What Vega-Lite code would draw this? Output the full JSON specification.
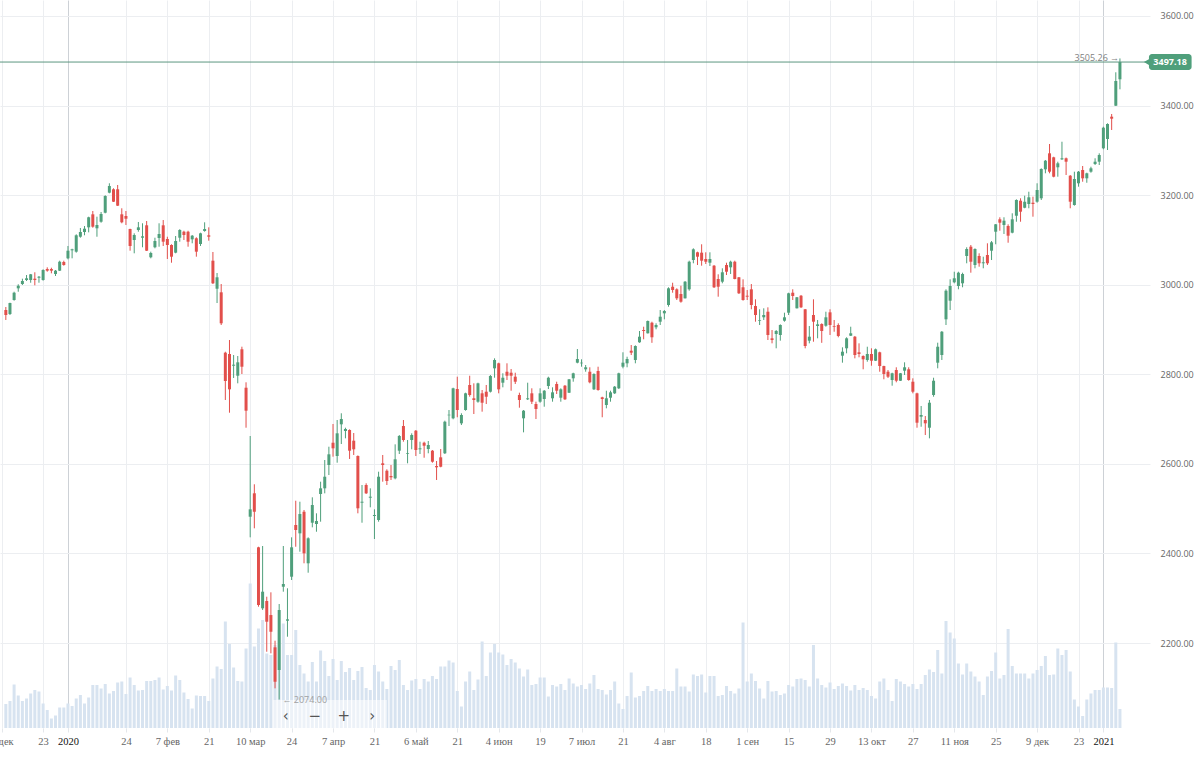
{
"$schema":"https://vega.github.io/schema/vega-lite/v6.json",
"width":1150,"height":728,"autosize":"none",
"padding":{"left":0,"top":0,"right":50,"bottom":45},
"background":"white",
"config":{"view":{"stroke":null},"font":"Open Sans"},
"datasets":{"ohlc":[
{"i":-29,"o":2943.6,"h":2950.3,"l":2921.3,"c":2932.4,"v":48},
{"i":-28,"o":2934.7,"h":2959.9,"l":2932.4,"c":2959.2,"v":54},
{"i":-27,"o":2965.9,"h":2984.4,"l":2964.4,"c":2982.2,"v":87},
{"i":-26,"o":2992.0,"h":3001.0,"l":2984.4,"c":2997.8,"v":65},
{"i":-25,"o":3001.6,"h":3013.5,"l":2999.4,"c":3008.3,"v":54},
{"i":-24,"o":3010.6,"h":3021.7,"l":3008.3,"c":3014.4,"v":59},
{"i":-23,"o":3010.6,"h":3024.0,"l":3004.5,"c":3023.3,"v":69},
{"i":-22,"o":3013.5,"h":3027.8,"l":2998.7,"c":3010.6,"v":76},
{"i":-21,"o":3015.7,"h":3019.5,"l":3004.5,"c":3017.9,"v":73},
{"i":-20,"o":3010.6,"h":3034.5,"l":3009.0,"c":3032.9,"v":49},
{"i":-19,"o":3035.1,"h":3038.9,"l":3029.1,"c":3031.4,"v":36},
{"i":-18,"o":3035.1,"h":3038.0,"l":3025.5,"c":3031.4,"v":19},
{"i":-17,"o":3024.0,"h":3032.9,"l":3019.5,"c":3031.4,"v":25},
{"i":-16,"o":3031.4,"h":3053.7,"l":3030.7,"c":3051.4,"v":41},
{"i":-15,"o":3050.8,"h":3053.7,"l":3042.5,"c":3044.1,"v":41},
{"i":-14,"o":3059.0,"h":3086.5,"l":3056.8,"c":3076.0,"v":49},
{"i":-13,"o":3076.9,"h":3080.4,"l":3059.0,"c":3079.1,"v":44},
{"i":-12,"o":3073.8,"h":3112.6,"l":3071.6,"c":3110.4,"v":59},
{"i":-11,"o":3107.2,"h":3126.7,"l":3105.0,"c":3117.7,"v":66},
{"i":-10,"o":3117.7,"h":3131.1,"l":3110.4,"c":3125.1,"v":49},
{"i":-9,"o":3128.2,"h":3151.9,"l":3117.0,"c":3150.6,"v":61},
{"i":-8,"o":3157.2,"h":3164.6,"l":3127.3,"c":3129.6,"v":86},
{"i":-7,"o":3126.0,"h":3151.9,"l":3107.2,"c":3133.4,"v":86},
{"i":-6,"o":3140.7,"h":3162.4,"l":3138.5,"c":3157.9,"v":79},
{"i":-5,"o":3160.8,"h":3199.7,"l":3159.5,"c":3198.1,"v":88},
{"i":-4,"o":3205.5,"h":3226.5,"l":3204.1,"c":3220.4,"v":69},
{"i":-3,"o":3213.1,"h":3215.3,"l":3184.7,"c":3185.4,"v":74},
{"i":-2,"o":3213.1,"h":3222.7,"l":3175.8,"c":3176.5,"v":91},
{"i":-1,"o":3157.2,"h":3170.7,"l":3137.2,"c":3139.4,"v":93},
{"i":0,"o":3153.5,"h":3164.6,"l":3133.4,"c":3147.4,"v":68},
{"i":1,"o":3124.4,"h":3125.1,"l":3076.0,"c":3086.5,"v":101},
{"i":2,"o":3099.9,"h":3114.8,"l":3070.2,"c":3111.0,"v":86},
{"i":3,"o":3122.2,"h":3140.1,"l":3118.4,"c":3128.2,"v":75},
{"i":4,"o":3105.0,"h":3137.2,"l":3083.6,"c":3108.1,"v":76},
{"i":5,"o":3132.7,"h":3142.3,"l":3075.3,"c":3076.0,"v":94},
{"i":6,"o":3061.3,"h":3073.8,"l":3059.0,"c":3070.9,"v":94},
{"i":7,"o":3083.7,"h":3105.0,"l":3081.3,"c":3097.6,"v":96},
{"i":8,"o":3104.3,"h":3137.2,"l":3084.9,"c":3113.3,"v":101},
{"i":9,"o":3132.7,"h":3144.5,"l":3086.5,"c":3096.1,"v":77},
{"i":10,"o":3102.1,"h":3107.2,"l":3057.5,"c":3088.7,"v":84},
{"i":11,"o":3088.7,"h":3090.3,"l":3049.2,"c":3062.6,"v":75},
{"i":12,"o":3071.6,"h":3108.8,"l":3070.2,"c":3097.6,"v":105},
{"i":13,"o":3105.0,"h":3124.0,"l":3096.1,"c":3122.2,"v":96},
{"i":14,"o":3118.4,"h":3120.6,"l":3099.9,"c":3111.0,"v":71},
{"i":15,"o":3118.4,"h":3120.6,"l":3084.9,"c":3096.1,"v":58},
{"i":16,"o":3101.4,"h":3111.0,"l":3092.5,"c":3109.5,"v":39},
{"i":17,"o":3103.7,"h":3105.9,"l":3062.6,"c":3073.8,"v":65},
{"i":18,"o":3090.9,"h":3116.2,"l":3086.5,"c":3114.8,"v":64},
{"i":19,"o":3120.0,"h":3139.4,"l":3118.4,"c":3124.4,"v":64},
{"i":20,"o":3110.4,"h":3128.2,"l":3098.3,"c":3107.2,"v":54},
{"i":21,"o":3053.7,"h":3073.1,"l":3001.6,"c":3003.2,"v":99},
{"i":22,"o":2991.1,"h":3026.2,"l":2959.2,"c":3016.6,"v":123},
{"i":23,"o":2983.1,"h":3001.6,"l":2910.1,"c":2913.9,"v":118},
{"i":24,"o":2848.3,"h":2850.5,"l":2742.7,"c":2785.1,"v":213},
{"i":25,"o":2845.4,"h":2876.6,"l":2714.3,"c":2766.5,"v":168},
{"i":26,"o":2819.2,"h":2843.1,"l":2791.8,"c":2821.5,"v":121},
{"i":27,"o":2796.9,"h":2840.9,"l":2779.9,"c":2826.8,"v":94},
{"i":28,"o":2855.9,"h":2861.7,"l":2800.7,"c":2817.0,"v":93},
{"i":29,"o":2770.1,"h":2782.2,"l":2680.8,"c":2718.8,"v":159},
{"i":30,"o":2482.1,"h":2662.3,"l":2436.1,"c":2498.6,"v":289},
{"i":31,"o":2534.3,"h":2554.5,"l":2456.2,"c":2493.2,"v":163},
{"i":32,"o":2413.8,"h":2415.1,"l":2281.2,"c":2285.0,"v":199},
{"i":33,"o":2277.6,"h":2416.7,"l":2273.8,"c":2314.7,"v":216},
{"i":34,"o":2293.9,"h":2303.5,"l":2180.7,"c":2247.7,"v":149},
{"i":35,"o":2262.6,"h":2313.3,"l":2177.1,"c":2225.3,"v":146},
{"i":36,"o":2190.5,"h":2205.3,"l":2099.0,"c":2113.7,"v":166},
{"i":37,"o":2139.9,"h":2287.2,"l":2074.0,"c":2273.8,"v":196},
{"i":38,"o":2325.8,"h":2416.7,"l":2314.7,"c":2331.9,"v":209},
{"i":39,"o":2249.9,"h":2322.3,"l":2214.2,"c":2253.0,"v":146},
{"i":40,"o":2348.2,"h":2436.1,"l":2340.8,"c":2413.8,"v":146},
{"i":41,"o":2463.6,"h":2517.8,"l":2415.1,"c":2452.4,"v":196},
{"i":42,"o":2445.0,"h":2515.6,"l":2404.0,"c":2488.1,"v":126},
{"i":43,"o":2493.2,"h":2497.1,"l":2378.1,"c":2400.4,"v":109},
{"i":44,"o":2378.1,"h":2436.1,"l":2357.1,"c":2433.9,"v":93},
{"i":45,"o":2468.7,"h":2525.4,"l":2458.4,"c":2508.2,"v":132},
{"i":46,"o":2465.8,"h":2489.7,"l":2448.6,"c":2472.5,"v":93},
{"i":47,"o":2532.8,"h":2560.3,"l":2471.0,"c":2545.5,"v":155},
{"i":48,"o":2545.5,"h":2608.7,"l":2534.3,"c":2571.4,"v":134},
{"i":49,"o":2597.5,"h":2638.4,"l":2575.2,"c":2621.4,"v":104},
{"i":50,"o":2647.3,"h":2689.1,"l":2616.1,"c":2634.8,"v":138},
{"i":51,"o":2617.6,"h":2698.0,"l":2602.7,"c":2668.3,"v":96},
{"i":52,"o":2688.4,"h":2713.0,"l":2644.4,"c":2700.2,"v":134},
{"i":53,"o":2673.4,"h":2680.8,"l":2657.1,"c":2677.9,"v":112},
{"i":54,"o":2675.7,"h":2677.2,"l":2611.0,"c":2629.5,"v":120},
{"i":55,"o":2651.8,"h":2669.0,"l":2619.9,"c":2632.6,"v":96},
{"i":56,"o":2617.6,"h":2619.0,"l":2489.7,"c":2500.9,"v":114},
{"i":57,"o":2513.4,"h":2552.9,"l":2468.7,"c":2515.6,"v":122},
{"i":58,"o":2552.9,"h":2556.7,"l":2532.8,"c":2534.3,"v":80},
{"i":59,"o":2524.5,"h":2545.5,"l":2503.1,"c":2526.8,"v":76},
{"i":60,"o":2483.7,"h":2498.6,"l":2432.3,"c":2485.9,"v":126},
{"i":61,"o":2474.8,"h":2582.6,"l":2471.0,"c":2571.4,"v":113},
{"i":62,"o":2601.3,"h":2619.9,"l":2560.3,"c":2597.5,"v":93},
{"i":63,"o":2584.8,"h":2587.9,"l":2552.9,"c":2561.8,"v":78},
{"i":64,"o":2573.0,"h":2597.5,"l":2564.1,"c":2570.1,"v":124},
{"i":65,"o":2567.8,"h":2643.7,"l":2565.6,"c":2610.3,"v":116},
{"i":66,"o":2629.5,"h":2664.5,"l":2622.1,"c":2662.3,"v":136},
{"i":67,"o":2684.6,"h":2698.0,"l":2649.6,"c":2653.4,"v":86},
{"i":68,"o":2622.1,"h":2653.4,"l":2601.3,"c":2623.7,"v":76},
{"i":69,"o":2653.4,"h":2668.3,"l":2632.6,"c":2664.5,"v":95},
{"i":70,"o":2674.1,"h":2675.7,"l":2617.6,"c":2631.0,"v":98},
{"i":71,"o":2632.6,"h":2649.6,"l":2622.1,"c":2634.8,"v":78},
{"i":72,"o":2647.3,"h":2649.6,"l":2613.8,"c":2640.6,"v":98},
{"i":73,"o":2633.3,"h":2651.1,"l":2623.7,"c":2642.2,"v":93},
{"i":74,"o":2629.5,"h":2631.0,"l":2602.7,"c":2604.9,"v":104},
{"i":75,"o":2595.3,"h":2606.5,"l":2564.1,"c":2592.4,"v":98},
{"i":76,"o":2614.7,"h":2633.3,"l":2592.4,"c":2593.7,"v":123},
{"i":77,"o":2623.7,"h":2696.5,"l":2622.1,"c":2694.2,"v":123},
{"i":78,"o":2708.5,"h":2720.3,"l":2684.6,"c":2709.8,"v":135},
{"i":79,"o":2701.8,"h":2770.1,"l":2699.6,"c":2768.8,"v":131},
{"i":80,"o":2767.2,"h":2794.7,"l":2704.1,"c":2720.3,"v":74},
{"i":81,"o":2690.6,"h":2713.0,"l":2686.8,"c":2709.2,"v":43},
{"i":82,"o":2720.3,"h":2759.0,"l":2718.8,"c":2757.6,"v":93},
{"i":83,"o":2776.2,"h":2796.9,"l":2750.1,"c":2753.8,"v":113},
{"i":84,"o":2746.5,"h":2779.9,"l":2711.4,"c":2742.7,"v":76},
{"i":85,"o":2738.9,"h":2781.3,"l":2736.6,"c":2779.9,"v":97},
{"i":86,"o":2757.6,"h":2765.0,"l":2716.6,"c":2736.6,"v":173},
{"i":87,"o":2761.2,"h":2776.2,"l":2733.7,"c":2750.0,"v":104},
{"i":88,"o":2761.2,"h":2798.5,"l":2759.4,"c":2796.2,"v":151},
{"i":89,"o":2813.4,"h":2835.7,"l":2792.4,"c":2832.0,"v":168},
{"i":90,"o":2824.6,"h":2826.0,"l":2757.6,"c":2766.5,"v":151},
{"i":91,"o":2781.3,"h":2802.3,"l":2771.0,"c":2792.4,"v":147},
{"i":92,"o":2805.8,"h":2824.6,"l":2787.3,"c":2796.9,"v":126},
{"i":93,"o":2803.6,"h":2811.9,"l":2763.4,"c":2796.9,"v":138},
{"i":94,"o":2794.7,"h":2803.6,"l":2778.4,"c":2783.5,"v":131},
{"i":95,"o":2753.8,"h":2759.0,"l":2725.5,"c":2742.7,"v":119},
{"i":96,"o":2701.8,"h":2720.3,"l":2670.5,"c":2718.8,"v":103},
{"i":97,"o":2744.2,"h":2781.3,"l":2742.7,"c":2746.5,"v":117},
{"i":98,"o":2757.6,"h":2768.8,"l":2733.7,"c":2738.9,"v":86},
{"i":99,"o":2733.7,"h":2738.9,"l":2700.2,"c":2722.5,"v":88},
{"i":100,"o":2738.9,"h":2768.8,"l":2736.6,"c":2757.6,"v":101},
{"i":101,"o":2744.9,"h":2765.0,"l":2727.7,"c":2763.4,"v":101},
{"i":102,"o":2773.9,"h":2794.7,"l":2767.2,"c":2792.4,"v":63},
{"i":103,"o":2746.5,"h":2771.0,"l":2738.9,"c":2759.8,"v":86},
{"i":104,"o":2778.4,"h":2783.5,"l":2756.1,"c":2763.4,"v":83},
{"i":105,"o":2747.8,"h":2768.8,"l":2738.9,"c":2766.5,"v":88},
{"i":106,"o":2774.6,"h":2776.2,"l":2742.7,"c":2744.2,"v":76},
{"i":107,"o":2758.9,"h":2789.5,"l":2758.3,"c":2788.9,"v":99},
{"i":108,"o":2791.1,"h":2803.6,"l":2783.5,"c":2802.3,"v":89},
{"i":109,"o":2826.0,"h":2856.5,"l":2824.6,"c":2834.2,"v":83},
{"i":110,"o":2824.6,"h":2833.5,"l":2817.0,"c":2826.0,"v":86},
{"i":111,"o":2811.2,"h":2820.8,"l":2805.8,"c":2815.7,"v":78},
{"i":112,"o":2805.8,"h":2815.7,"l":2779.9,"c":2782.2,"v":89},
{"i":113,"o":2766.5,"h":2802.3,"l":2765.0,"c":2800.7,"v":106},
{"i":114,"o":2807.4,"h":2817.0,"l":2763.4,"c":2765.0,"v":78},
{"i":115,"o":2748.7,"h":2750.0,"l":2704.1,"c":2744.9,"v":76},
{"i":116,"o":2731.5,"h":2763.4,"l":2724.1,"c":2746.5,"v":67},
{"i":117,"o":2747.8,"h":2763.4,"l":2738.9,"c":2759.8,"v":76},
{"i":118,"o":2757.6,"h":2773.9,"l":2756.1,"c":2772.4,"v":93},
{"i":119,"o":2768.8,"h":2803.6,"l":2767.2,"c":2802.3,"v":49},
{"i":120,"o":2817.0,"h":2849.2,"l":2813.4,"c":2826.0,"v":38},
{"i":121,"o":2824.6,"h":2839.3,"l":2815.7,"c":2834.2,"v":64},
{"i":122,"o":2852.7,"h":2865.4,"l":2843.1,"c":2848.3,"v":111},
{"i":123,"o":2832.0,"h":2864.7,"l":2824.6,"c":2863.2,"v":61},
{"i":124,"o":2871.5,"h":2896.7,"l":2870.3,"c":2884.0,"v":64},
{"i":125,"o":2898.9,"h":2906.3,"l":2878.2,"c":2896.7,"v":74},
{"i":126,"o":2891.6,"h":2920.1,"l":2891.1,"c":2919.0,"v":84},
{"i":127,"o":2915.2,"h":2917.5,"l":2870.3,"c":2882.7,"v":74},
{"i":128,"o":2905.0,"h":2913.9,"l":2900.5,"c":2910.1,"v":78},
{"i":129,"o":2917.5,"h":2943.6,"l":2910.1,"c":2928.6,"v":74},
{"i":130,"o":2936.2,"h":2943.6,"l":2922.8,"c":2941.4,"v":78},
{"i":131,"o":2954.8,"h":2994.3,"l":2951.0,"c":2992.0,"v":74},
{"i":132,"o":2995.6,"h":3004.5,"l":2982.2,"c":2988.2,"v":74},
{"i":133,"o":2989.8,"h":2992.0,"l":2965.9,"c":2969.7,"v":119},
{"i":134,"o":2979.3,"h":2997.8,"l":2959.9,"c":2962.1,"v":83},
{"i":135,"o":2969.7,"h":3008.3,"l":2969.3,"c":3006.8,"v":83},
{"i":136,"o":2989.8,"h":3053.7,"l":2986.7,"c":3051.4,"v":73},
{"i":137,"o":3055.2,"h":3081.3,"l":3047.9,"c":3079.1,"v":107},
{"i":138,"o":3072.4,"h":3073.8,"l":3044.1,"c":3062.6,"v":104},
{"i":139,"o":3071.6,"h":3090.3,"l":3042.5,"c":3053.7,"v":107},
{"i":140,"o":3057.5,"h":3072.4,"l":3046.3,"c":3051.4,"v":71},
{"i":141,"o":3049.2,"h":3072.4,"l":3041.8,"c":3057.5,"v":104},
{"i":142,"o":3042.5,"h":3044.1,"l":2992.7,"c":2994.3,"v":104},
{"i":143,"o":3012.8,"h":3023.3,"l":2973.3,"c":2995.6,"v":64},
{"i":144,"o":3006.8,"h":3036.7,"l":3003.2,"c":3027.8,"v":66},
{"i":145,"o":3044.1,"h":3049.2,"l":3021.7,"c":3029.1,"v":84},
{"i":146,"o":3038.9,"h":3053.7,"l":3024.0,"c":3051.4,"v":74},
{"i":147,"o":3051.4,"h":3053.7,"l":3012.1,"c":3012.8,"v":69},
{"i":148,"o":3016.6,"h":3017.3,"l":2979.3,"c":2980.9,"v":79},
{"i":149,"o":2994.3,"h":3012.1,"l":2964.4,"c":2965.9,"v":211},
{"i":150,"o":2975.5,"h":2988.2,"l":2965.9,"c":2973.3,"v":93},
{"i":151,"o":2989.8,"h":3001.6,"l":2945.2,"c":2954.8,"v":109},
{"i":152,"o":2952.5,"h":2967.5,"l":2917.5,"c":2932.4,"v":94},
{"i":153,"o":2919.7,"h":2945.2,"l":2910.1,"c":2921.3,"v":79},
{"i":154,"o":2927.3,"h":2947.4,"l":2921.3,"c":2932.4,"v":59},
{"i":155,"o":2939.8,"h":2949.6,"l":2876.6,"c":2887.8,"v":94},
{"i":156,"o":2880.4,"h":2898.9,"l":2869.2,"c":2876.6,"v":73},
{"i":157,"o":2890.0,"h":2898.9,"l":2858.1,"c":2896.7,"v":74},
{"i":158,"o":2887.8,"h":2911.6,"l":2875.1,"c":2910.1,"v":66},
{"i":159,"o":2919.7,"h":2937.6,"l":2917.5,"c":2927.3,"v":69},
{"i":160,"o":2937.6,"h":2982.2,"l":2932.4,"c":2980.9,"v":86},
{"i":161,"o":2982.2,"h":2989.8,"l":2965.9,"c":2974.8,"v":83},
{"i":162,"o":2947.4,"h":2972.6,"l":2947.0,"c":2972.0,"v":98},
{"i":163,"o":2975.5,"h":2977.1,"l":2948.1,"c":2949.6,"v":99},
{"i":164,"o":2945.2,"h":2945.9,"l":2858.1,"c":2863.2,"v":96},
{"i":165,"o":2875.1,"h":2907.9,"l":2869.2,"c":2884.0,"v":83},
{"i":166,"o":2932.4,"h":2967.5,"l":2872.8,"c":2917.5,"v":166},
{"i":167,"o":2907.9,"h":2921.3,"l":2880.4,"c":2911.6,"v":99},
{"i":168,"o":2912.3,"h":2913.9,"l":2870.3,"c":2896.7,"v":86},
{"i":169,"o":2908.5,"h":2939.8,"l":2906.3,"c":2927.3,"v":81},
{"i":170,"o":2938.4,"h":2945.2,"l":2887.8,"c":2910.1,"v":91},
{"i":171,"o":2907.9,"h":2921.3,"l":2895.1,"c":2906.3,"v":78},
{"i":172,"o":2910.1,"h":2913.9,"l":2882.7,"c":2885.6,"v":84},
{"i":173,"o":2841.6,"h":2860.3,"l":2826.0,"c":2850.5,"v":89},
{"i":174,"o":2858.1,"h":2882.7,"l":2846.9,"c":2880.4,"v":84},
{"i":175,"o":2886.2,"h":2906.3,"l":2885.6,"c":2891.6,"v":75},
{"i":176,"o":2884.0,"h":2885.6,"l":2835.7,"c":2843.1,"v":86},
{"i":177,"o":2849.2,"h":2869.2,"l":2838.0,"c":2845.4,"v":76},
{"i":178,"o":2840.9,"h":2842.4,"l":2811.2,"c":2833.5,"v":80},
{"i":179,"o":2832.0,"h":2861.6,"l":2828.2,"c":2845.4,"v":76},
{"i":180,"o":2845.4,"h":2858.1,"l":2819.2,"c":2830.4,"v":64},
{"i":181,"o":2830.4,"h":2857.6,"l":2829.7,"c":2855.9,"v":59},
{"i":182,"o":2849.2,"h":2850.5,"l":2805.8,"c":2818.5,"v":93},
{"i":183,"o":2818.5,"h":2819.2,"l":2788.9,"c":2800.7,"v":99},
{"i":184,"o":2805.8,"h":2809.6,"l":2791.8,"c":2794.7,"v":76},
{"i":185,"o":2787.3,"h":2803.6,"l":2774.6,"c":2802.3,"v":54},
{"i":186,"o":2809.6,"h":2815.7,"l":2782.2,"c":2785.7,"v":98},
{"i":187,"o":2785.7,"h":2803.0,"l":2785.1,"c":2802.3,"v":93},
{"i":188,"o":2808.1,"h":2826.8,"l":2798.5,"c":2815.7,"v":88},
{"i":189,"o":2811.2,"h":2815.7,"l":2785.7,"c":2787.3,"v":83},
{"i":190,"o":2783.5,"h":2791.1,"l":2757.6,"c":2761.2,"v":88},
{"i":191,"o":2757.6,"h":2759.0,"l":2680.8,"c":2692.0,"v":78},
{"i":192,"o":2705.4,"h":2729.3,"l":2683.0,"c":2709.2,"v":88},
{"i":193,"o":2698.0,"h":2706.9,"l":2664.5,"c":2690.6,"v":106},
{"i":194,"o":2680.8,"h":2742.7,"l":2657.1,"c":2736.6,"v":117},
{"i":195,"o":2753.8,"h":2792.4,"l":2750.0,"c":2785.7,"v":112},
{"i":196,"o":2826.0,"h":2870.6,"l":2813.4,"c":2861.6,"v":156},
{"i":197,"o":2843.1,"h":2896.7,"l":2832.0,"c":2895.1,"v":109},
{"i":198,"o":2922.8,"h":2989.8,"l":2910.1,"c":2986.7,"v":214},
{"i":199,"o":2964.4,"h":3012.1,"l":2943.6,"c":2997.2,"v":191},
{"i":200,"o":3005.4,"h":3029.1,"l":3003.2,"c":3014.4,"v":179},
{"i":201,"o":2997.2,"h":3029.1,"l":2989.8,"c":3026.9,"v":129},
{"i":202,"o":3003.2,"h":3026.9,"l":2994.3,"c":3024.0,"v":107},
{"i":203,"o":3064.2,"h":3083.6,"l":3047.9,"c":3079.8,"v":129},
{"i":204,"o":3084.9,"h":3088.7,"l":3026.9,"c":3051.4,"v":113},
{"i":205,"o":3044.1,"h":3081.3,"l":3036.7,"c":3079.8,"v":103},
{"i":206,"o":3064.2,"h":3070.2,"l":3040.3,"c":3047.9,"v":93},
{"i":207,"o":3047.9,"h":3062.6,"l":3036.7,"c":3050.1,"v":66},
{"i":208,"o":3066.4,"h":3092.5,"l":3044.1,"c":3047.9,"v":103},
{"i":209,"o":3076.0,"h":3097.6,"l":3055.2,"c":3094.7,"v":114},
{"i":210,"o":3118.4,"h":3135.6,"l":3090.3,"c":3134.9,"v":151},
{"i":211,"o":3146.1,"h":3150.6,"l":3120.6,"c":3138.5,"v":99},
{"i":212,"o":3133.4,"h":3150.6,"l":3113.3,"c":3143.0,"v":106},
{"i":213,"o":3131.1,"h":3134.9,"l":3093.8,"c":3109.5,"v":198},
{"i":214,"o":3116.2,"h":3159.5,"l":3114.8,"c":3146.1,"v":124},
{"i":215,"o":3154.1,"h":3190.7,"l":3140.7,"c":3189.2,"v":109},
{"i":216,"o":3187.6,"h":3193.0,"l":3140.7,"c":3163.1,"v":109},
{"i":217,"o":3172.0,"h":3198.8,"l":3170.7,"c":3185.4,"v":109},
{"i":218,"o":3180.2,"h":3207.7,"l":3170.7,"c":3195.2,"v":99},
{"i":219,"o":3183.1,"h":3196.6,"l":3151.9,"c":3180.2,"v":109},
{"i":220,"o":3185.4,"h":3226.5,"l":3183.1,"c":3211.5,"v":116},
{"i":221,"o":3193.0,"h":3259.9,"l":3189.2,"c":3258.4,"v":124},
{"i":222,"o":3257.7,"h":3278.5,"l":3248.8,"c":3276.9,"v":144},
{"i":223,"o":3293.4,"h":3314.2,"l":3248.8,"c":3252.4,"v":106},
{"i":224,"o":3284.5,"h":3285.8,"l":3239.8,"c":3241.2,"v":107},
{"i":225,"o":3262.2,"h":3274.7,"l":3241.2,"c":3271.1,"v":159},
{"i":226,"o":3280.0,"h":3319.3,"l":3278.5,"c":3282.3,"v":146},
{"i":227,"o":3282.3,"h":3284.0,"l":3245.0,"c":3274.7,"v":156},
{"i":228,"o":3243.4,"h":3245.0,"l":3170.7,"c":3185.4,"v":113},
{"i":229,"o":3178.0,"h":3252.4,"l":3176.5,"c":3236.1,"v":57},
{"i":230,"o":3226.5,"h":3253.9,"l":3218.9,"c":3252.4,"v":43},
{"i":231,"o":3256.2,"h":3265.1,"l":3230.0,"c":3237.6,"v":24},
{"i":232,"o":3237.6,"h":3250.1,"l":3227.7,"c":3248.8,"v":57},
{"i":233,"o":3252.4,"h":3263.5,"l":3250.1,"c":3259.9,"v":69},
{"i":234,"o":3269.6,"h":3282.3,"l":3267.3,"c":3274.7,"v":76},
{"i":235,"o":3274.7,"h":3293.4,"l":3267.3,"c":3289.6,"v":76},
{"i":236,"o":3304.6,"h":3352.8,"l":3302.4,"c":3350.6,"v":81},
{"i":237,"o":3325.4,"h":3360.4,"l":3300.8,"c":3358.9,"v":81},
{"i":238,"o":3375.2,"h":3381.2,"l":3345.5,"c":3370.7,"v":80},
{"i":239,"o":3399.7,"h":3474.3,"l":3399.1,"c":3454.9,"v":171},
{"i":240,"o":3458.7,"h":3505.26,"l":3436.3,"c":3497.18,"v":38}
]},
"layer":[
{"data":{"name":"ohlc"},"mark":{"type":"bar","size":3,"color":"#d7e3f0"},
 "encoding":{
  "x":{"field":"i","type":"quantitative","scale":{"domain":[-29.2,246.05],"nice":false,"zero":false},"title":null,
   "axis":{"values":[-30,-20,-14,0,10,20,30,40,50,60,70,80,90,100,110,120,130,140,150,160,170,180,190,200,210,220,230,236],
    "labelExpr":"['9 дек','23','2020','24','7 фев','21','10 мар','24','7 апр','21','6 май','21','4 июн','19','7 июл','21','4 авг','18','1 сен','15','29','13 окт','27','11 ноя','25','9 дек','23','2021'][indexof([-30,-20,-14,0,10,20,30,40,50,60,70,80,90,100,110,120,130,140,150,160,170,180,190,200,210,220,230,236], datum.value)]",
    "labelOverlap":false,"labelBound":false,"labelFlush":false,"domain":false,"ticks":true,"tickSize":4,"tickColor":"#e4e7eb",
    "labelFont":"Liberation Serif","labelFontSize":10.5,"labelPadding":4,
    "labelColor":{"condition":{"test":"datum.value == -14 || datum.value == 236","value":"#111111"},"value":"#666666"},
    "grid":true,"gridColor":{"condition":{"test":"datum.value == -14 || datum.value == 236","value":"#cdd1d6"},"value":"#eceef1"}}},
  "y":{"field":"v","type":"quantitative","scale":{"domain":[0,1456],"nice":false},"axis":null}
 }},
{"layer":[
 {"data":{"name":"ohlc"},"mark":{"type":"rule","strokeWidth":1},
  "encoding":{
   "x":{"field":"i","type":"quantitative"},
   "y":{"field":"l","type":"quantitative","scale":{"domain":[2010.4,3635.7],"nice":false,"zero":false},"title":null,
    "axis":{"orient":"right","values":[2200,2400,2600,2800,3000,3200,3400,3600],"format":".2f","domain":false,"ticks":false,"tickSize":0,"labelPadding":10,"labelFontSize":9,"labelColor":"#666666","labelFont":"Open Sans","grid":true,"gridColor":"#eceef1"}},
   "y2":{"field":"h"},
   "color":{"condition":{"test":"datum.c >= datum.o","value":"#4f9f7b"},"value":"#e24f4b"}
  }},
 {"data":{"name":"ohlc"},"mark":{"type":"bar","size":3},
  "encoding":{
   "x":{"field":"i","type":"quantitative"},
   "y":{"field":"o","type":"quantitative"},
   "y2":{"field":"c"},
   "color":{"condition":{"test":"datum.c >= datum.o","value":"#4f9f7b"},"value":"#e24f4b"}
  }},
 {"data":{"values":[{"a":35.5,"b":63.0,"y1":2010.4,"y2":2072.9}]},"mark":{"type":"rect","color":"white","opacity":0.55},
  "encoding":{"x":{"field":"a","type":"quantitative"},"x2":{"field":"b"},"y":{"field":"y1","type":"quantitative"},"y2":{"field":"y2"}}},
 {"data":{"values":[{"p":3497.18}]},"mark":{"type":"rule","color":"#5d9680","strokeWidth":1},
  "encoding":{"y":{"field":"p","type":"quantitative"}}},
 {"data":{"values":[{"i":37.8,"p":2073,"t":"← 2074.00"}]},"mark":{"type":"text","align":"left","baseline":"middle","fontSize":9,"color":"#a0a0a0","font":"Open Sans"},
  "encoding":{"x":{"field":"i","type":"quantitative"},"y":{"field":"p","type":"quantitative"},"text":{"field":"t"}}},
 {"data":{"values":[{"i":239.8,"p":3507,"t":"3505.26 →"}]},"mark":{"type":"text","align":"right","baseline":"middle","fontSize":9,"color":"#808080","font":"Open Sans"},
  "encoding":{"x":{"field":"i","type":"quantitative"},"y":{"field":"p","type":"quantitative"},"text":{"field":"t"}}},
 {"data":{"values":[{"i":38.6,"p":2036.5,"t":"‹"},{"i":45.6,"p":2036.5,"t":"−"},{"i":52.6,"p":2036.5,"t":"+"},{"i":59.5,"p":2036.5,"t":"›"}]},
  "mark":{"type":"text","align":"center","baseline":"middle","fontSize":15,"color":"#555555","font":"DejaVu Sans"},
  "encoding":{"x":{"field":"i","type":"quantitative"},"y":{"field":"p","type":"quantitative"},"text":{"field":"t"}}},
 {"data":{"values":[{"a":247.0,"b":257.3,"y1":3479.4,"y2":3515.1}]},"mark":{"type":"rect","color":"#4f9f7b","cornerRadius":3},
  "encoding":{"x":{"field":"a","type":"quantitative"},"x2":{"field":"b"},"y":{"field":"y1","type":"quantitative"},"y2":{"field":"y2"}}},
 {"data":{"values":[{"i":246.6,"p":3497.18}]},"mark":{"type":"point","shape":"triangle-left","filled":true,"size":60,"color":"#4f9f7b","opacity":1},
  "encoding":{"x":{"field":"i","type":"quantitative"},"y":{"field":"p","type":"quantitative"}}},
 {"data":{"values":[{"i":252.1,"p":3497.18,"t":"3497.18"}]},"mark":{"type":"text","align":"center","baseline":"middle","fontSize":9,"fontWeight":"bold","color":"white","font":"Open Sans"},
  "encoding":{"x":{"field":"i","type":"quantitative"},"y":{"field":"p","type":"quantitative"},"text":{"field":"t"}}}
]}
],
"resolve":{"scale":{"y":"independent"}}
}
